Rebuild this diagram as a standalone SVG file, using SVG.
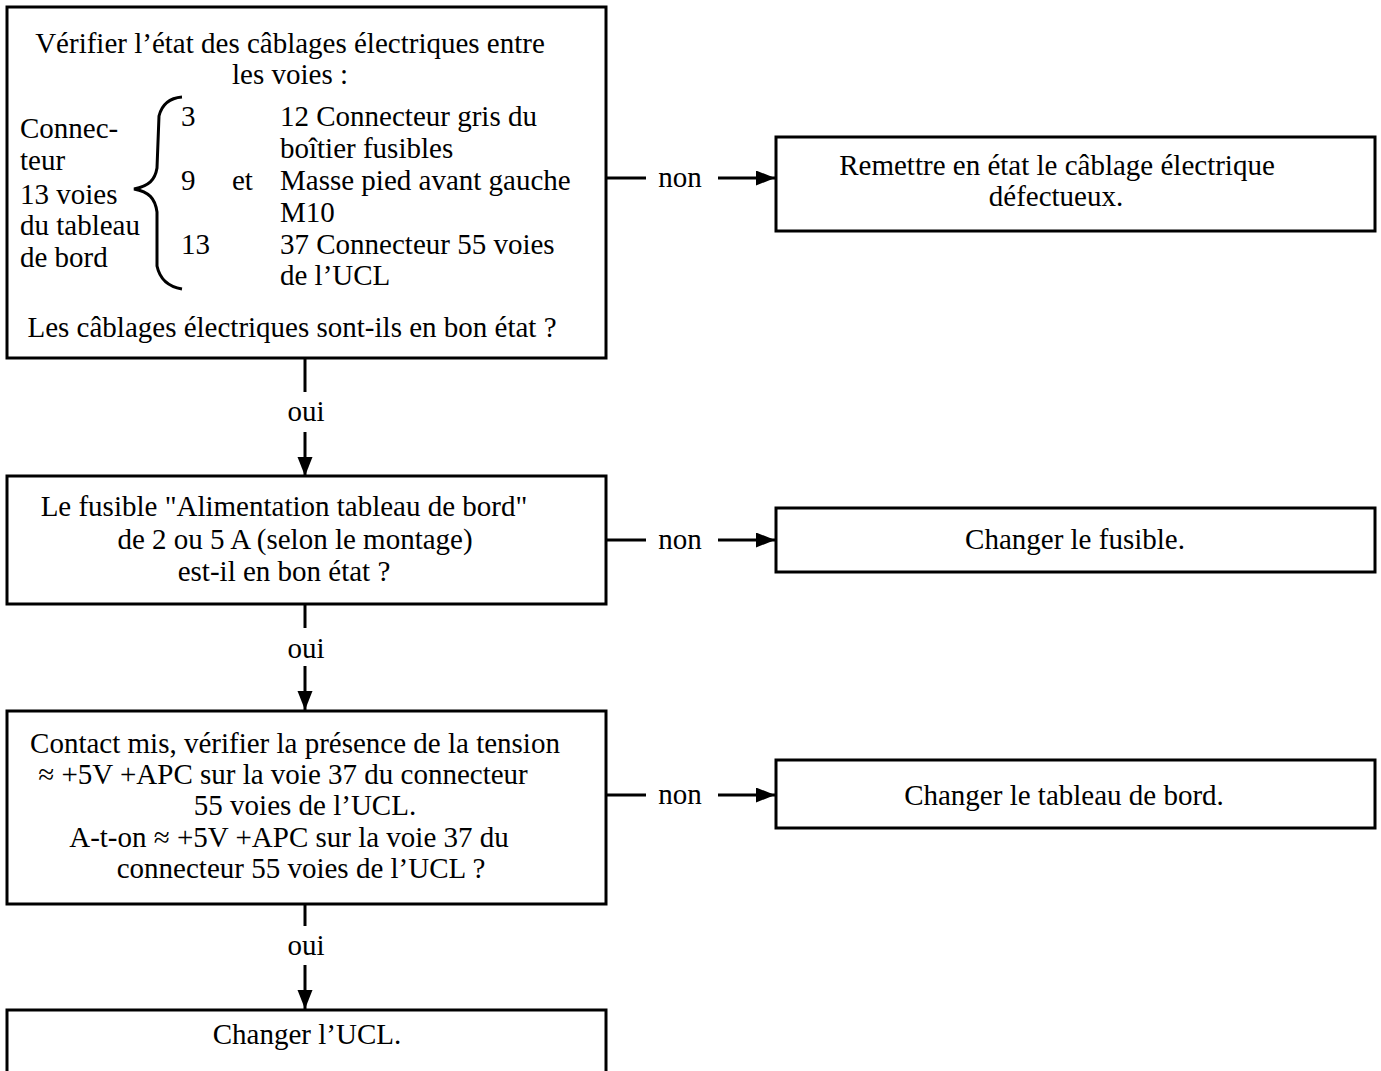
<svg xmlns="http://www.w3.org/2000/svg" width="1381" height="1071" viewBox="0 0 1381 1071">
<style>
.box{fill:#fff;stroke:#000;stroke-width:3}
.t{font-family:"Liberation Serif","Times New Roman",serif;font-size:29px;fill:#000}
.c{text-anchor:middle}
.ln{stroke:#000;stroke-width:3;fill:none}
</style>
<defs>
<marker id="ah" markerWidth="20" markerHeight="16" refX="19" refY="7.5" orient="auto" markerUnits="userSpaceOnUse">
<path d="M0,0 L19,7.5 L0,15 Z" fill="#000"/>
</marker>
</defs>
<rect width="1381" height="1071" fill="#fff"/>
<g id="connectors">
<line class="ln" x1="606" y1="178" x2="646" y2="178"/>
<line class="ln" x1="718" y1="178" x2="775" y2="178" marker-end="url(#ah)"/>
<line class="ln" x1="606" y1="540" x2="646" y2="540"/>
<line class="ln" x1="718" y1="540" x2="775" y2="540" marker-end="url(#ah)"/>
<line class="ln" x1="606" y1="795" x2="646" y2="795"/>
<line class="ln" x1="718" y1="795" x2="775" y2="795" marker-end="url(#ah)"/>
<line class="ln" x1="305" y1="358" x2="305" y2="392"/>
<line class="ln" x1="305" y1="432" x2="305" y2="476" marker-end="url(#ah)"/>
<line class="ln" x1="305" y1="604" x2="305" y2="628"/>
<line class="ln" x1="305" y1="666" x2="305" y2="710" marker-end="url(#ah)"/>
<line class="ln" x1="305" y1="904" x2="305" y2="926"/>
<line class="ln" x1="305" y1="965" x2="305" y2="1009" marker-end="url(#ah)"/>
<text class="t c" x="680" y="187">non</text>
<text class="t c" x="680" y="549">non</text>
<text class="t c" x="680" y="804">non</text>
<text class="t c" x="306" y="421">oui</text>
<text class="t c" x="306" y="658">oui</text>
<text class="t c" x="306" y="955">oui</text>
</g>
<g id="n1">
<rect class="box" x="7" y="7" width="599" height="351"/>
<text class="t c" x="290" y="53">Vérifier l’état des câblages électriques entre</text>
<text class="t c" x="290" y="84">les voies :</text>
<text class="t" x="20" y="138">Connec-</text>
<text class="t" x="20" y="170">teur</text>
<text class="t" x="20" y="204">13 voies</text>
<text class="t" x="20" y="235">du tableau</text>
<text class="t" x="20" y="267">de bord</text>
<path class="ln" d="M182,97 C170,98 162,104 159,116 L157,168 C155,180 149,186 134,189 C149,192 155,198 157,212 L157,266 C160,280 170,287 182,289" stroke-width="2.5"/>
<text class="t" x="181" y="126">3</text>
<text class="t" x="280" y="126">12 Connecteur gris du</text>
<text class="t" x="280" y="158">boîtier fusibles</text>
<text class="t" x="181" y="190">9</text>
<text class="t" x="232" y="190">et</text>
<text class="t" x="280" y="190">Masse pied avant gauche</text>
<text class="t" x="280" y="222">M10</text>
<text class="t" x="181" y="254">13</text>
<text class="t" x="280" y="254">37 Connecteur 55 voies</text>
<text class="t" x="280" y="285">de l’UCL</text>
<text class="t c" x="292" y="337">Les câblages électriques sont-ils en bon état ?</text>
</g>
<g id="n2">
<rect class="box" x="776" y="137" width="599" height="94"/>
<text class="t c" x="1057" y="175">Remettre en état le câblage électrique</text>
<text class="t c" x="1056" y="206">défectueux.</text>
</g>
<g id="n3">
<rect class="box" x="7" y="476" width="599" height="128"/>
<text class="t c" x="284" y="516">Le fusible "Alimentation tableau de bord"</text>
<text class="t c" x="295" y="549">de 2 ou 5 A (selon le montage)</text>
<text class="t c" x="284" y="581">est-il en bon état ?</text>
</g>
<g id="n4">
<rect class="box" x="776" y="508" width="599" height="64"/>
<text class="t c" x="1075" y="549">Changer le fusible.</text>
</g>
<g id="n5">
<rect class="box" x="7" y="711" width="599" height="193"/>
<text class="t c" x="295" y="753">Contact mis, vérifier la présence de la tension</text>
<text class="t c" x="283" y="784">≈ +5V +APC sur la voie 37 du connecteur</text>
<text class="t c" x="305" y="815">55 voies de l’UCL.</text>
<text class="t c" x="289" y="847">A-t-on ≈ +5V +APC sur la voie 37 du</text>
<text class="t c" x="301" y="878">connecteur 55 voies de l’UCL ?</text>
</g>
<g id="n6">
<rect class="box" x="776" y="760" width="599" height="68"/>
<text class="t c" x="1064" y="805">Changer le tableau de bord.</text>
</g>
<g id="n7">
<rect class="box" x="7" y="1010" width="599" height="80"/>
<text class="t c" x="307" y="1044">Changer l’UCL.</text>
</g>
</svg>
